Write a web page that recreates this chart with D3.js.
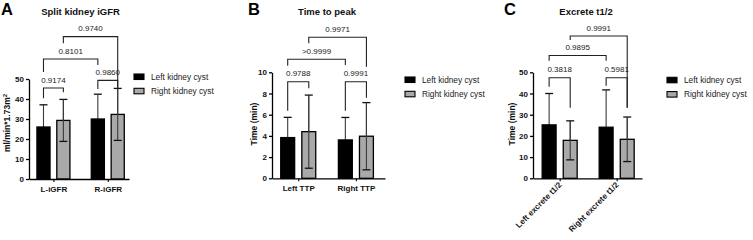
<!DOCTYPE html>
<html>
<head>
<meta charset="utf-8">
<script src="https://cdn.jsdelivr.net/npm/d3@7"></script>
<style>
  body { margin: 0; background: #fff; }
  svg { display: block; font-family: "Liberation Sans", Arial, sans-serif; }
</style>
</head>
<body>
<div id="chart"></div>
<script>
// Series shared by all three panels
var seriesNames = ["Left kidney cyst", "Right kidney cyst"];
var seriesColors = ["#000000", "#a9a9a9"];

// Panel A - split kidney iGFR
var groupsA = ["L-iGFR", "R-iGFR"];
var leftMeanA = [26.0, 30.0], leftSdA = [11.1, 12.4];
var rightMeanA = [29.3, 32.3], rightSdA = [10.5, 13.0];
var ticksA = [0, 10, 20, 30, 40, 50];
// [from bar, to bar, bracket level, left leg end, right leg end, p]
var bracketsA = [
  [0, 1, 45.5, 40.4, 43.4, "0.9174"],
  [2, 3, 49.3, 45.0, 45.6, "0.9860"],
  [0, 2, 60.0, 53.5, 57.0, "0.8101"],
  [1, 3, 71.2, 67.9, 45.5, "0.9740"]
];

// Panel B - time to peak
var groupsB = ["Left TTP", "Right TTP"];
var leftMeanB = [3.84, 3.62], leftSdB = [1.91, 2.12];
var rightMeanB = [4.4, 3.97], rightSdB = [3.45, 3.17];
var ticksB = [0, 2, 4, 6, 8, 10];
var bracketsB = [
  [0, 1, 9.11, 6.38, 8.49, "0.9788"],
  [2, 3, 9.11, 6.38, 7.60, "0.9991"],
  [0, 2, 11.23, 10.62, 10.69, ">0.9999"],
  [1, 3, 13.3, 12.74, 10.53, "0.9971"]
];

// Panel C - excrete t1/2
var groupsC = ["Left excrete t1/2", "Right excrete t1/2"];
var leftMeanC = [25.2, 24.1], leftSdC = [14.8, 17.6];
var rightMeanC = [17.9, 18.4], rightSdC = [9.2, 10.5];
var ticksC = [0, 10, 20, 30, 40, 50];
var bracketsC = [
  [0, 1, 47.45, 43.2, 33.3, "0.3818"],
  [2, 3, 47.45, 43.7, 33.3, "0.5981"],
  [0, 2, 57.9, 55.5, 55.5, "0.9895"],
  [1, 3, 67.1, 65.2, 33.3, "0.9991"]
];

var W = 753, H = 240;
var svg = d3.select("#chart").append("svg")
    .attr("width", W)
    .attr("height", H);

function drawPanel(cfg) {
  var g = svg.append("g");

  var y = d3.scaleLinear().domain([0, cfg.yMax]).range([cfg.bottom, cfg.top]);
  var x = d3.scalePoint().domain(cfg.groups)
      .range([cfg.left, cfg.right]).padding(cfg.pad).align(cfg.align);
  var xs = d3.scaleBand().domain(seriesNames)
      .range([-cfg.half, cfg.half]).paddingInner(0.34);

  // one row per bar, ordered black, gray, black, gray
  var rows = [];
  cfg.groups.forEach(function(name, i) {
    rows.push({g: name, s: 0, m: cfg.means[0][i], sd: cfg.sds[0][i]});
    rows.push({g: name, s: 1, m: cfg.means[1][i], sd: cfg.sds[1][i]});
  });
  var bx = function(d) { return x(d.g) + xs(seriesNames[d.s]) + xs.bandwidth() / 2; };

  // error bars (drawn first, bars cover the lower half of the black ones)
  var eb = g.append("g").selectAll("g").data(rows).enter().append("g");
  eb.append("line")
      .attr("x1", bx).attr("x2", bx)
      .attr("y1", function(d) { return y(d.m - d.sd); })
      .attr("y2", function(d) { return y(d.m + d.sd); })
      .attr("stroke", "#3a3a3a").attr("stroke-width", 1.1);
  [1, -1].forEach(function(sign) {
    eb.append("line")
        .attr("x1", function(d) { return bx(d) - 4; })
        .attr("x2", function(d) { return bx(d) + 4; })
        .attr("y1", function(d) { return y(d.m + sign * d.sd); })
        .attr("y2", function(d) { return y(d.m + sign * d.sd); })
        .attr("stroke", "#111").attr("stroke-width", 1.3);
  });

  // bars
  g.append("g").selectAll("rect").data(rows).enter().append("rect")
      .attr("x", function(d) { return bx(d) - xs.bandwidth() / 2; })
      .attr("y", function(d) { return y(d.m); })
      .attr("width", xs.bandwidth())
      .attr("height", function(d) { return y(0) - y(d.m); })
      .attr("fill", function(d) { return seriesColors[d.s]; })
      .attr("stroke", "#000").attr("stroke-width", 1.3);

  // gray error bars go over their bar
  var eb2 = g.append("g").selectAll("g").data(rows.filter(function(d) { return d.s === 1; }))
      .enter().append("g");
  eb2.append("line")
      .attr("x1", bx).attr("x2", bx)
      .attr("y1", function(d) { return y(d.m - d.sd); })
      .attr("y2", function(d) { return y(d.m + d.sd); })
      .attr("stroke", "#3a3a3a").attr("stroke-width", 1.1);
  eb2.append("line")
      .attr("x1", function(d) { return bx(d) - 4; })
      .attr("x2", function(d) { return bx(d) + 4; })
      .attr("y1", function(d) { return y(d.m - d.sd); })
      .attr("y2", function(d) { return y(d.m - d.sd); })
      .attr("stroke", "#111").attr("stroke-width", 1.3);

  // y axis
  var yAxis = g.append("g")
      .attr("transform", "translate(" + cfg.left + ",0)")
      .call(d3.axisLeft(y).tickValues(cfg.ticks).tickSize(3).tickSizeOuter(0).tickPadding(2));
  yAxis.select(".domain").attr("stroke-width", 1.3);
  yAxis.selectAll(".tick line").attr("stroke-width", 1.3);
  yAxis.selectAll("text").attr("font-size", 8).attr("font-weight", "bold")
      .attr("fill", "#111").attr("font-family", null);

  // x axis
  var xAxis = g.append("g")
      .attr("transform", "translate(0," + cfg.bottom + ")")
      .call(d3.axisBottom(x).tickSize(3).tickSizeOuter(0).tickPadding(4.5));
  xAxis.select(".domain").attr("stroke-width", 1.3);
  xAxis.selectAll(".tick line").attr("stroke-width", 1.1);
  var xt = xAxis.selectAll("text").attr("font-size", 8).attr("font-weight", "bold")
      .attr("fill", "#111").attr("font-family", null);
  if (cfg.rotate) {
    xt.attr("text-anchor", "end")
      .attr("dy", null).attr("y", 0)
      .attr("transform", "translate(2,7) rotate(-45)");
  }

  // y axis title
  var yt = g.append("text")
      .attr("transform", "translate(" + cfg.yTitleX + "," + cfg.yTitleY + ") rotate(-90)")
      .attr("text-anchor", "middle")
      .attr("font-size", 8.5).attr("font-weight", "bold").attr("fill", "#111")
      .text(cfg.yTitle);
  if (cfg.yTitleSup) {
    yt.append("tspan").attr("dy", -3.5).attr("font-size", 6).text(cfg.yTitleSup);
  }

  // chart title and panel letter
  g.append("text")
      .attr("x", cfg.titleX).attr("y", 15)
      .attr("text-anchor", "middle")
      .attr("font-size", 9.5).attr("font-weight", "bold").attr("fill", "#111")
      .text(cfg.title);
  g.append("text")
      .attr("x", cfg.letterX).attr("y", 15)
      .attr("font-size", 16.5).attr("font-weight", "bold").attr("fill", "#000")
      .text(cfg.letter);

  // significance brackets
  var br = g.append("g").selectAll("g").data(cfg.brackets).enter().append("g");
  br.append("path")
      .attr("d", function(b) {
        var x0 = bx(rows[b[0]]), x1 = bx(rows[b[1]]);
        return "M" + x0 + "," + y(b[3]) + "V" + y(b[2]) + "H" + x1 + "V" + y(b[4]);
      })
      .attr("fill", "none").attr("stroke", "#222").attr("stroke-width", 1.1);
  br.append("text")
      .attr("x", function(b) { return (bx(rows[b[0]]) + bx(rows[b[1]])) / 2; })
      .attr("y", function(b) { return y(b[2]) - 5.5; })
      .attr("text-anchor", "middle")
      .attr("font-size", 8).attr("fill", "#222")
      .text(function(b) { return b[5]; });

  // legend
  var lg = g.append("g").selectAll("g").data(seriesNames).enter().append("g")
      .attr("transform", function(d, i) {
        return "translate(" + cfg.legendX + "," + (cfg.legendY + i * 14.3) + ")";
      });
  lg.append("rect")
      .attr("width", 10).attr("height", 5.5)
      .attr("fill", function(d, i) { return seriesColors[i]; })
      .attr("stroke", "#000").attr("stroke-width", 1.1);
  lg.append("text")
      .attr("x", 17).attr("y", 5.8)
      .attr("font-size", 8.3).attr("fill", "#222")
      .text(function(d) { return d; });
}

drawPanel({
  groups: groupsA, means: [leftMeanA, rightMeanA], sds: [leftSdA, rightSdA],
  ticks: ticksA, yMax: 50, brackets: bracketsA,
  left: 29, right: 129, top: 79, bottom: 179, pad: 0.42, align: 0.535, half: 16.5,
  yTitle: "ml/min*1.73m", yTitleSup: "2", yTitleX: 10, yTitleY: 123,
  title: "Split kidney iGFR", titleX: 80.5, letter: "A", letterX: 1,
  legendX: 134, legendY: 74
});

drawPanel({
  groups: groupsB, means: [leftMeanB, rightMeanB], sds: [leftSdB, rightSdB],
  ticks: ticksB, yMax: 10, brackets: bracketsB,
  left: 272, right: 385, top: 72.3, bottom: 178.3, pad: 0.48, align: 0.474, half: 17.5,
  yTitle: "Time (min)", yTitleX: 257, yTitleY: 124,
  title: "Time to peak", titleX: 327, letter: "B", letterX: 248,
  legendX: 405, legendY: 77
});

drawPanel({
  groups: groupsC, means: [leftMeanC, rightMeanC], sds: [leftSdC, rightSdC],
  ticks: ticksC, yMax: 50, brackets: bracketsC,
  left: 533, right: 642, top: 72.3, bottom: 178.3, pad: 0.456, align: 0.513, half: 17.5,
  rotate: true,
  yTitle: "Time (min)", yTitleX: 514.5, yTitleY: 124,
  title: "Excrete t1/2", titleX: 586, letter: "C", letterX: 504,
  legendX: 667, legendY: 77.3
});
</script>
</body>
</html>
